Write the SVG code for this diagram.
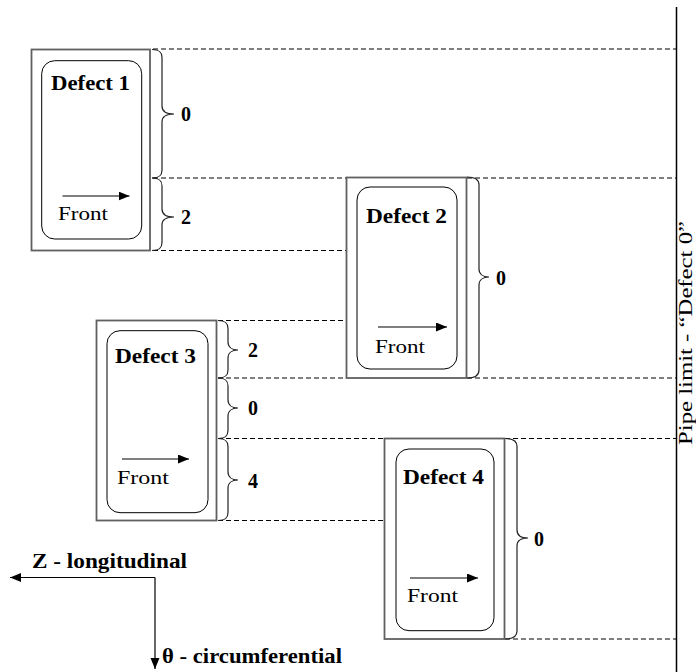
<svg xmlns="http://www.w3.org/2000/svg" width="696" height="672" viewBox="0 0 696 672">
<defs>
<marker id="ah" markerUnits="userSpaceOnUse" markerWidth="12" markerHeight="10" refX="11" refY="4.5" orient="auto">
<path d="M0,0 L11,4.5 L0,9 Z" fill="#000"/>
</marker>
<style>
.outer{fill:#fff;stroke:#606060;stroke-width:1.8}
.inner{fill:none;stroke:#000;stroke-width:1}
.title{font-family:"Liberation Serif","Times New Roman",serif;font-weight:bold;font-size:21px;fill:#000}
.front{font-family:"Liberation Serif","Times New Roman",serif;font-size:19px;fill:#000}
.num{font-family:"Liberation Serif","Times New Roman",serif;font-weight:bold;font-size:20px;fill:#000}
.axis{font-family:"Liberation Serif","Times New Roman",serif;font-weight:bold;font-size:20px;fill:#000}
.pipe{font-family:"Liberation Serif","Times New Roman",serif;font-size:19px;fill:#000}
.dash{stroke:#000;stroke-width:1;stroke-dasharray:5 3;fill:none}
.brace{stroke:#222;stroke-width:1.2;fill:none}
.arr{stroke:#000;stroke-width:1.2;fill:none;marker-end:url(#ah)}
</style>
</defs>
<rect width="696" height="672" fill="#fff"/>
<g id="connectors">
<line class="dash" x1="153" y1="49" x2="676" y2="49"/>
<line class="dash" x1="153" y1="178" x2="346" y2="178"/>
<line class="dash" x1="467" y1="178" x2="676" y2="178"/>
<line class="dash" x1="153" y1="250.5" x2="346" y2="250.5"/>
<line class="dash" x1="218" y1="320.5" x2="346" y2="320.5"/>
<line class="dash" x1="218" y1="378" x2="346" y2="378"/>
<line class="dash" x1="467" y1="378" x2="676" y2="378"/>
<line class="dash" x1="218" y1="438.5" x2="384" y2="438.5"/>
<line class="dash" x1="505" y1="438.5" x2="676" y2="438.5"/>
<line class="dash" x1="218" y1="520.5" x2="384" y2="520.5"/>
<line class="dash" x1="505" y1="639" x2="676" y2="639"/>
<path class="brace" d="M152,49.5 C159,49.5 162,51.5 162,57.5 L162,106 C162,111 166,114 174,114 C166,114 162,117 162,122 L162,170 C162,176 159,178 152,178"/>
<path class="brace" d="M152,178 C159,178 162,180 162,186 L162,209 C162,214 166,217 174,217 C166,217 162,220 162,225 L162,242.5 C162,248.5 159,250.5 152,250.5"/>
<path class="brace" d="M467,177 C474,177 479,179 479,185 L479,269 C479,274 483,277 489,277 C483,277 479,280 479,285 L479,370 C479,376 474,378 467,378"/>
<path class="brace" d="M218,320.5 C225,320.5 228,322.5 228,328.5 L228,342 C228,347 232,350 238,350 C232,350 228,353 228,358 L228,370 C228,376 225,378 218,378"/>
<path class="brace" d="M218,378 C225,378 228,380 228,386 L228,400 C228,405 232,408 238,408 C232,408 228,411 228,416 L228,430.5 C228,436.5 225,438.5 218,438.5"/>
<path class="brace" d="M218,438.5 C225,438.5 228,440.5 228,446.5 L228,472 C228,477 232,480 238,480 C232,480 228,483 228,488 L228,512.5 C228,518.5 225,520.5 218,520.5"/>
<path class="brace" d="M505,438.5 C512,438.5 517,440.5 517,446.5 L517,530 C517,535 521,538 528,538 C521,538 517,541 517,546 L517,631 C517,637 512,639 505,639"/>
<text class="num" x="181" y="121">0</text>
<text class="num" x="181" y="224">2</text>
<text class="num" x="496" y="285">0</text>
<text class="num" x="248" y="357">2</text>
<text class="num" x="248" y="415">0</text>
<text class="num" x="248" y="488">4</text>
<text class="num" x="534" y="546">0</text>
</g>
<g id="pipe-limit">
<line x1="676.5" y1="7" x2="676.5" y2="672" stroke="#000" stroke-width="1.5"/>
<text class="pipe" transform="translate(692,445) rotate(-90)" textLength="224" lengthAdjust="spacingAndGlyphs">Pipe limit - “Defect 0”</text>
</g>
<g id="defect1">
<rect class="outer" x="31.5" y="49.5" width="118.5" height="201"/>
<rect class="inner" x="41.7" y="60.7" width="100" height="178.3" rx="13" ry="13"/>
<text class="title" x="51" y="90" textLength="79" lengthAdjust="spacingAndGlyphs">Defect 1</text>
<line class="arr" x1="62.5" y1="196" x2="129.5" y2="196"/>
<text class="front" x="58" y="220" textLength="50" lengthAdjust="spacingAndGlyphs">Front</text>
</g>
<g id="defect2">
<rect class="outer" x="346.5" y="177.5" width="120" height="200.5"/>
<rect class="inner" x="357" y="187" width="100" height="182" rx="13" ry="13"/>
<text class="title" x="366" y="223" textLength="81" lengthAdjust="spacingAndGlyphs">Defect 2</text>
<line class="arr" x1="378" y1="327" x2="447" y2="327"/>
<text class="front" x="375" y="353" textLength="50" lengthAdjust="spacingAndGlyphs">Front</text>
</g>
<g id="defect3">
<rect class="outer" x="96.5" y="320.5" width="120" height="200"/>
<rect class="inner" x="107" y="330.7" width="101" height="182" rx="13" ry="13"/>
<text class="title" x="115" y="363" textLength="81" lengthAdjust="spacingAndGlyphs">Defect 3</text>
<line class="arr" x1="122" y1="459" x2="189" y2="459"/>
<text class="front" x="117" y="484" textLength="52" lengthAdjust="spacingAndGlyphs">Front</text>
</g>
<g id="defect4">
<rect class="outer" x="384.5" y="438.5" width="120" height="200.5"/>
<rect class="inner" x="396" y="449" width="98" height="181.7" rx="13" ry="13"/>
<text class="title" x="403" y="484" textLength="81" lengthAdjust="spacingAndGlyphs">Defect 4</text>
<line class="arr" x1="410" y1="578" x2="478" y2="578"/>
<text class="front" x="407" y="602" textLength="51" lengthAdjust="spacingAndGlyphs">Front</text>
</g>
<g id="axes">
<line class="arr" x1="155" y1="577.5" x2="10" y2="577.5"/>
<line class="arr" x1="155" y1="577.5" x2="155" y2="669"/>
<text class="axis" x="32" y="568" textLength="155" lengthAdjust="spacingAndGlyphs">Z - longitudinal</text>
<text class="axis" x="162" y="663" textLength="180" lengthAdjust="spacingAndGlyphs">θ - circumferential</text>
</g>
</svg>
